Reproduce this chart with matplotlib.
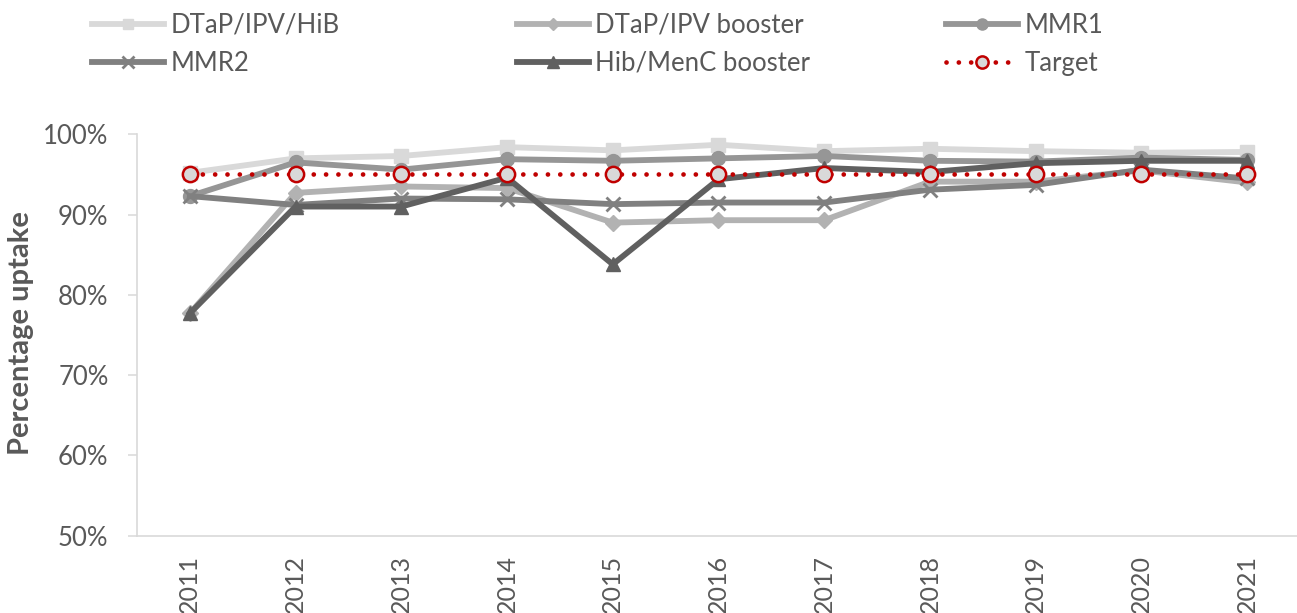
import matplotlib
matplotlib.use("Agg")
import matplotlib.pyplot as plt
from matplotlib.ticker import FuncFormatter

years = ["2011", "2012", "2013", "2014", "2015", "2016", "2017", "2018", "2019", "2020", "2021"]
dtap_ipv_hib = [95.2, 97.0, 97.3, 98.4, 98.0, 98.7, 97.9, 98.2, 97.9, 97.7, 97.8]
dtap_ipv_booster = [77.7, 92.7, 93.5, 93.3, 89.0, 89.3, 89.3, 94.1, 94.1, 95.5, 94.0]
mmr1 = [92.3, 96.5, 95.6, 96.9, 96.7, 97.0, 97.3, 96.7, 96.6, 97.1, 96.8]
mmr2 = [92.3, 91.2, 92.0, 91.9, 91.3, 91.5, 91.5, 93.1, 93.7, 95.6, 94.5]
hib_menc = [77.7, 91.0, 91.0, 94.6, 83.8, 94.4, 95.8, 95.3, 96.4, 96.7, 96.7]
target = [95, 95, 95, 95, 95, 95, 95, 95, 95, 95, 95]

plt.rcParams['font.family'] = ['Lato', 'DejaVu Sans']
txt = '#595959'

fig = plt.figure(figsize=(12.97, 6.13), dpi=100)
ax = fig.add_axes([137/1297, (613-535.7)/613, 1163/1297, (535.7-134.3)/613])

x = list(range(len(years)))
lw = 4.2
h1, = ax.plot(x, dtap_ipv_hib, color='#d9d9d9', lw=lw, marker='s', ms=9.5, label='DTaP/IPV/HiB')
h2, = ax.plot(x, dtap_ipv_booster, color='#b2b2b2', lw=lw, marker='D', ms=8, label='DTaP/IPV booster')
h3, = ax.plot(x, mmr1, color='#969696', lw=lw, marker='o', ms=10, label='MMR1')
h4, = ax.plot(x, mmr2, color='#808080', lw=lw, marker='x', ms=10, mew=2, label='MMR2')
h5, = ax.plot(x, hib_menc, color='#606060', lw=lw, marker='^', ms=10, label='Hib/MenC booster')
h6, = ax.plot(x, target, color='#c00000', lw=3.4, linestyle=(0, (0.01, 2.6)), dash_capstyle='round',
              marker='o', ms=11, mfc='#d9d9d9', mec='#c00000', mew=1.8, label='Target')

ax.set_xlim(-0.5, len(years) - 0.5)
ax.set_ylim(50, 100)
ax.set_yticks([50, 60, 70, 80, 90, 100])
ax.yaxis.set_major_formatter(FuncFormatter(lambda v, p: f"{v:.0f}%"))
ax.set_xticks(x)
ax.set_xticklabels(years, rotation=90, fontsize=18, color=txt)
ax.tick_params(axis='x', length=0, pad=14)
ax.tick_params(axis='y', length=6.5, width=1.1, color='#d9d9d9', labelsize=18.5, labelcolor=txt, pad=14)
for s in ['top', 'right']:
    ax.spines[s].set_visible(False)
for s in ['left', 'bottom']:
    ax.spines[s].set_color('#d9d9d9')
    ax.spines[s].set_linewidth(1.2)

fig.text(21/1297, (613-333)/613, 'Percentage uptake', rotation=90, ha='center', va='center',
         fontsize=21, fontweight='bold', color=txt)

cols = [([h1, h4], 92), ([h2, h5], 517), ([h3, h6], 946)]
for hs, xpx in cols:
    leg = fig.legend(handles=hs, labels=[h.get_label() for h in hs], loc='upper left',
                     bbox_to_anchor=(xpx/1297, 1 - 13/613), frameon=False, fontsize=18.5,
                     handlelength=2.8, handletextpad=0.25, labelspacing=0.5,
                     borderpad=0, borderaxespad=0, labelcolor=txt, markerscale=0.8)

fig.savefig('out.png', dpi=100)
